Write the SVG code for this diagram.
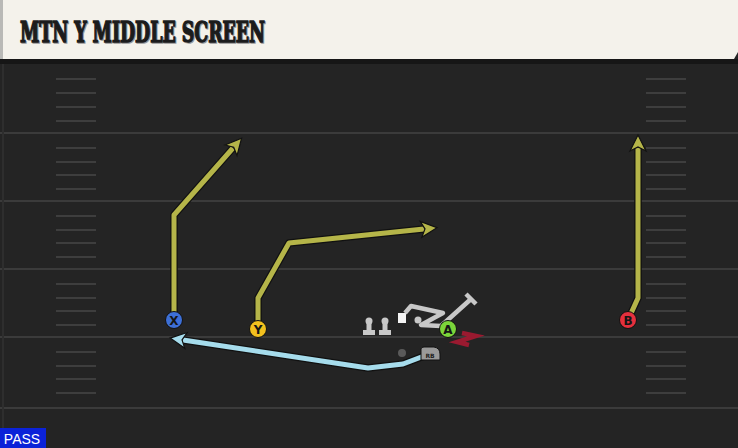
<svg xmlns="http://www.w3.org/2000/svg" width="738" height="448" viewBox="0 0 738 448">
<defs>
<style>
.fl{stroke:#3b3b3b;stroke-width:2}
.hs{stroke:#3e3e3e;stroke-width:2}
.ro{fill:none;stroke:#111;stroke-width:7.5;stroke-linejoin:round}
.ol{fill:none;stroke:#b5b549;stroke-width:5;stroke-linejoin:round}
.cy{fill:none;stroke:#a6dcec;stroke-width:5;stroke-linejoin:round}
.lt{font-family:"DejaVu Sans","Liberation Sans",sans-serif;font-weight:bold;font-size:12px;fill:#151515;text-anchor:middle}
.pc{stroke:#111;stroke-width:1}
.gr{fill:#c8c8c8}
.ttl{font-family:"DejaVu Serif Condensed","DejaVu Serif","Liberation Serif",serif;font-weight:bold;font-stretch:condensed;font-size:28px}
</style>
<marker id="ao" markerUnits="userSpaceOnUse" markerWidth="22" markerHeight="22" refX="5" refY="11" orient="auto" viewBox="0 0 22 22">
<path d="M2,3 L18,11 L2,19 L6,11 Z" fill="#b5b549" stroke="#111" stroke-width="1.2"/>
</marker>
<marker id="ac" markerUnits="userSpaceOnUse" markerWidth="22" markerHeight="22" refX="5" refY="11" orient="auto" viewBox="0 0 22 22">
<path d="M2,3 L18,11 L2,19 L6,11 Z" fill="#a6dcec" stroke="#111" stroke-width="1.2"/>
</marker>
</defs>
<rect width="738" height="448" fill="#242424"/>
<g id="field">
<line x1="0" y1="133" x2="738" y2="133" class="fl"/>
<line x1="0" y1="201" x2="738" y2="201" class="fl"/>
<line x1="0" y1="269" x2="738" y2="269" class="fl"/>
<line x1="0" y1="337" x2="738" y2="337" class="fl"/>
<line x1="0" y1="408" x2="738" y2="408" class="fl"/>
<line x1="3" y1="62" x2="3" y2="448" stroke="#2e2e2e" stroke-width="2"/>
<g class="hs">
<path d="M56 79H96M56 93H96M56 107H96M56 121H96M56 148H96M56 162H96M56 175H96M56 189H96M56 216H96M56 230H96M56 243H96M56 257H96M56 284H96M56 298H96M56 311H96M56 325H96M56 352H96M56 366H96M56 379H96M56 393H96"/>
<path d="M646 79H686M646 93H686M646 107H686M646 121H686M646 148H686M646 162H686M646 175H686M646 189H686M646 216H686M646 230H686M646 243H686M646 257H686M646 284H686M646 298H686M646 311H686M646 325H686M646 352H686M646 366H686M646 379H686M646 393H686"/>
</g>
</g>
<g id="header">
<rect x="0" y="59" width="738" height="5" fill="#161616"/>
<path d="M0,0 H738 V52 L734,59 H0 Z" fill="#f4f2eb"/>
<rect x="0" y="0" width="3" height="59" fill="#b9b9b6"/>
<text x="21" y="43" class="ttl" fill="#9a9a9a" stroke="#9a9a9a" stroke-width="1.4" textLength="245" lengthAdjust="spacingAndGlyphs">MTN Y MIDDLE SCREEN</text>
<text x="20" y="42" class="ttl" fill="#1c1c1c" stroke="#1c1c1c" stroke-width="1.4" textLength="245" lengthAdjust="spacingAndGlyphs">MTN Y MIDDLE SCREEN</text>
</g>
<g id="connectors">
<path class="ro" d="M174,320 V215 L233,148"/>
<path class="ol" d="M174,320 V215 L233,148" marker-end="url(#ao)"/>
<path class="ro" d="M258,329 V298 L289,243 L424,229"/>
<path class="ol" d="M258,329 V298 L289,243 L424,229" marker-end="url(#ao)"/>
<path class="ro" d="M628,320 L638,298 V148"/>
<path class="ol" d="M628,320 L638,298 V148" marker-end="url(#ao)"/>
<path class="ro" d="M424,356 L403,364 L368,368 L183,340"/>
<path class="cy" d="M424,356 L403,364 L368,368 L183,340" marker-end="url(#ac)"/>
</g>
<g id="line">
<g id="lineman1" class="gr">
<circle cx="369" cy="321" r="3.5"/>
<rect x="366.5" y="322" width="5" height="11"/>
<rect x="363" y="330" width="12" height="5"/>
</g>
<g id="lineman2" class="gr">
<circle cx="385" cy="321" r="3.5"/>
<rect x="382.5" y="322" width="5" height="11"/>
<rect x="379" y="330" width="12" height="5"/>
</g>
<g id="center">
<rect x="398" y="313" width="8" height="10" fill="#f4f4f4"/>
</g>
<g id="block">
<path d="M405,313 L411,306 L443,313 L421,325 L441,326 L471,299" fill="none" stroke="#c8c8c8" stroke-width="4.5" stroke-linejoin="round"/>
<path d="M466,294 L476,304" stroke="#c8c8c8" stroke-width="4.5"/>
<circle cx="418" cy="320" r="3.5" fill="#c8c8c8"/>
</g>
</g>
<g id="qb"><circle cx="402" cy="353" r="4" fill="#5a5a5a"/></g>
<g id="rb">
<path d="M421,349 Q421,347 424,347 H434 Q440,348 440,354 V360 H421 Z" fill="#9a9a9a" stroke="#111" stroke-width="1"/>
<text x="430" y="357.5" font-family="'DejaVu Sans',sans-serif" font-size="6" font-weight="bold" fill="#222" text-anchor="middle">RB</text>
</g>
<g id="A-motion">
<path d="M462,333 L476,336 L457,342 L469,345" fill="none" stroke="#9a1a30" stroke-width="4.5" stroke-linejoin="miter"/>
</g>
<g id="X"><circle cx="174" cy="320" r="8.5" fill="#3d6fd6" class="pc"/><text x="174" y="324.5" class="lt">X</text></g>
<g id="Y"><circle cx="258" cy="329" r="8.5" fill="#f2c01e" class="pc"/><text x="258" y="333.5" class="lt">Y</text></g>
<g id="A"><circle cx="448" cy="329" r="8.5" fill="#7cd53a" class="pc"/><text x="448" y="333.5" class="lt">A</text></g>
<g id="B"><circle cx="628" cy="320" r="8.5" fill="#e5303d" class="pc"/><text x="628" y="324.5" class="lt">B</text></g>
<g id="pass">
<rect x="0" y="428" width="46" height="20" fill="#0b22d8"/>
<text x="22" y="444" font-family="'Liberation Sans',Arial,sans-serif" font-size="14" fill="#ffffff" text-anchor="middle">PASS</text>
</g>
</svg>
